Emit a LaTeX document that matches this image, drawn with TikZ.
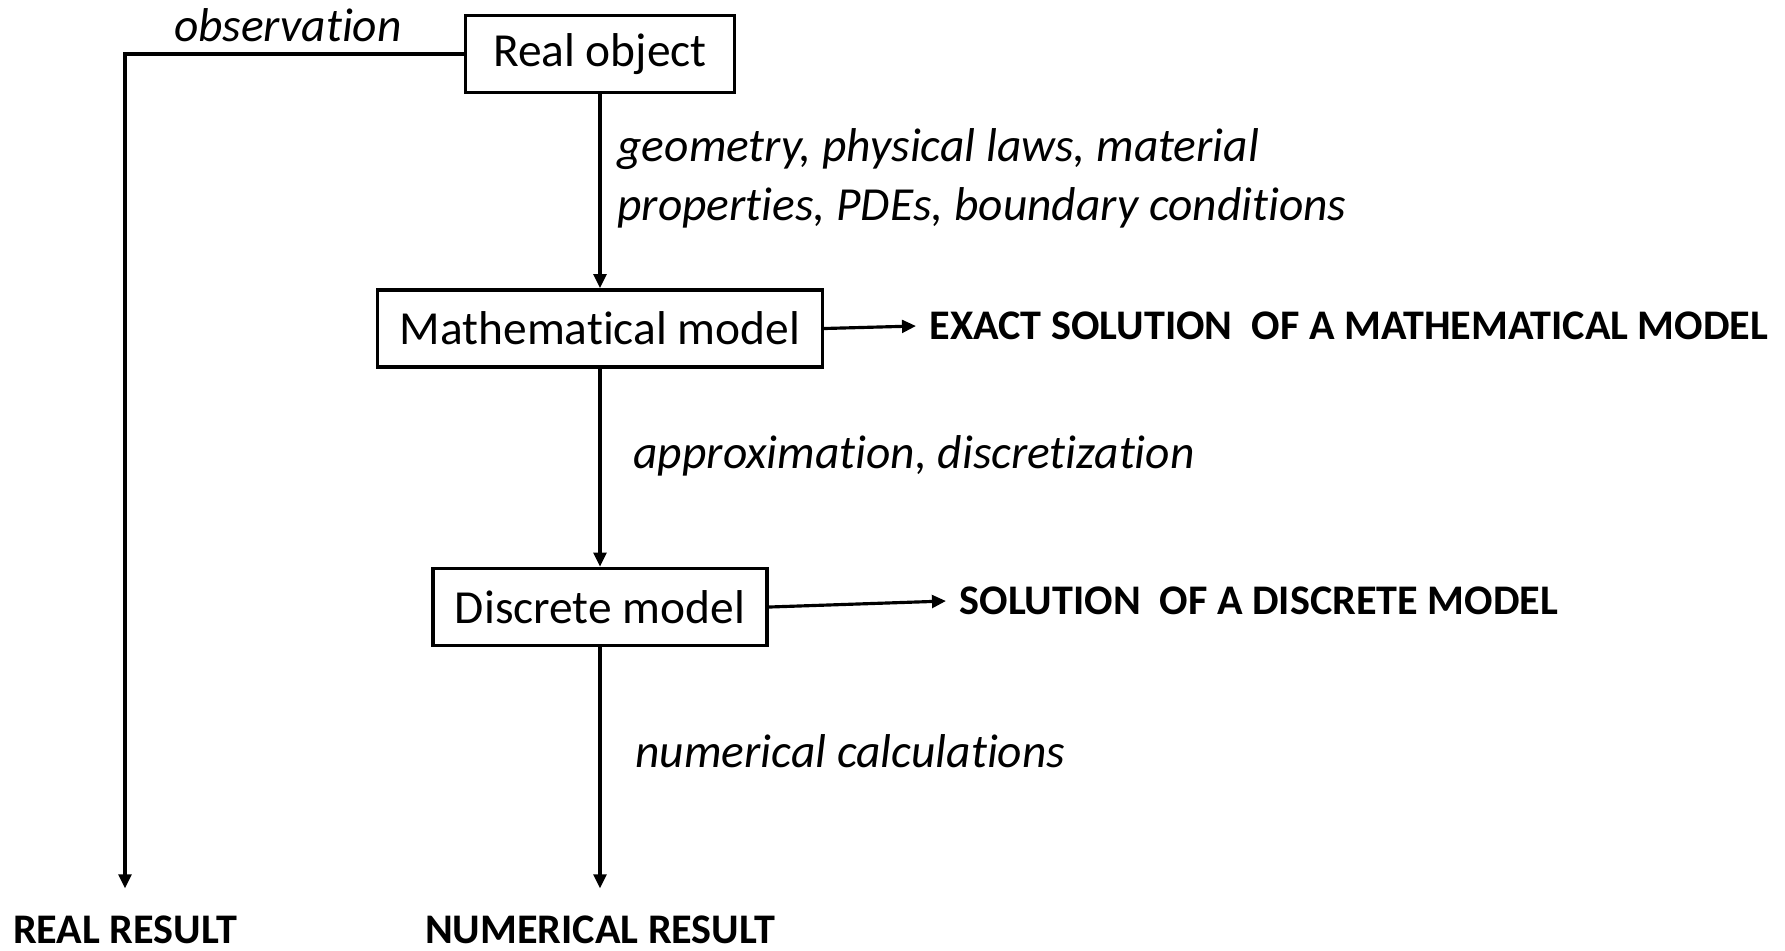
\documentclass[tikz,border=0pt]{standalone}
\usepackage{fontspec}
\setmainfont{Carlito}[RawFeature={-liga;-clig;-calt;-rlig}]
\usetikzlibrary{arrows.meta,positioning}
\tikzset{
  >={Triangle[length=4pt,width=3.6pt]},
  box/.style={
    draw, line width=1pt, rectangle, align=center, inner xsep=2.2mm,
    font=\fontsize{13.5}{16}\selectfont, minimum height=7.7mm
  },
  lbl/.style={
    inner sep=0pt, align=left, font=\fontsize{13.5}{16.8}\selectfont\itshape
  },
  res/.style={
    inner xsep=1.2mm, inner ysep=2.6mm, font=\fontsize{12}{14}\selectfont\bfseries
  },
}

\begin{document}
\begin{tikzpicture}[line width=0.9pt]
  \useasboundingbox (0,0) rectangle (17.85,-9.5);

  \node[box, minimum width=26.9mm] (real) at (6.00,-0.54) {Real object};
  \node[box, below=19.4mm of real] (math) {Mathematical model};
  \node[box, below=19.8mm of math] (disc) {Discrete model};

  \node[res] (realres) at (1.25,-9.30) {REAL RESULT};
  \node[res] (numres) at (6.00,-9.30) {NUMERICAL RESULT};
  \node[res, anchor=west] (exact) at (9.16,-3.26)
    {EXACT SOLUTION\ \ OF A MATHEMATICAL MODEL};
  \node[res, anchor=west] (sol) at (9.46,-6.01)
    {SOLUTION\ \ OF A DISCRETE MODEL};

  % labels
  \node[lbl] (obs) at (2.88,-0.25) {observation};
  \node[lbl, anchor=west] (geo) at (6.16,-1.78)
    {geometry, physical laws, material\\properties, PDEs, boundary conditions};
  \node[lbl, anchor=west] (approx) at (6.32,-4.56) {approximation, discretization};
  \node[lbl, anchor=west] (numcalc) at (6.34,-7.51) {numerical calculations};

  \draw[->] (real.west) -| (realres.north);
  \draw[->] (real) -- (math);
  \draw[->] (math) -- (disc);
  \draw[->] (disc) -- (numres);
  \draw[->] (math.east) -- (exact.west);
  \draw[->] (disc.east) -- (sol.west);
\end{tikzpicture}
\end{document}
